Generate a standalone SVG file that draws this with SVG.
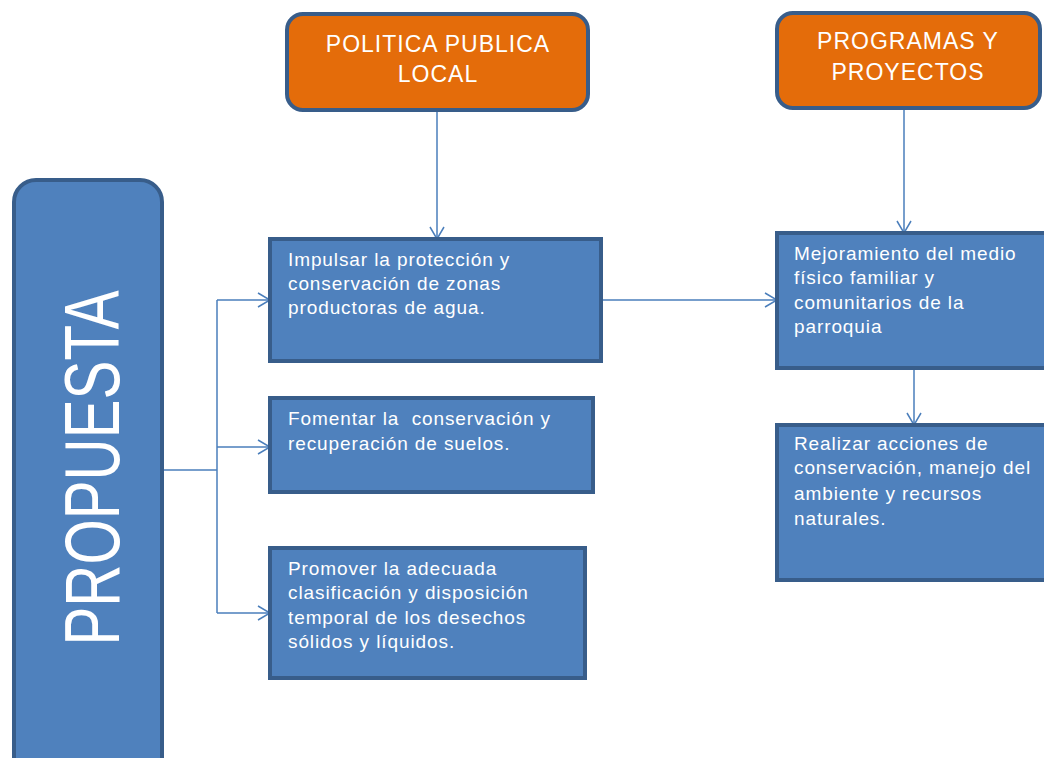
<svg xmlns="http://www.w3.org/2000/svg" width="1044" height="758" viewBox="0 0 1044 758">
<style>
.blue{fill:#4F81BD;stroke:#385D8A;stroke-width:4}
.orange{fill:#E46C0A;stroke:#385D8A;stroke-width:4}
.t{font-family:"Liberation Sans",Arial,sans-serif;fill:#fff;font-size:19px;letter-spacing:0.9px;white-space:pre}
.h{font-family:"Liberation Sans",Arial,sans-serif;fill:#fff;font-size:23px;text-anchor:middle;letter-spacing:1px}
.c{fill:none;stroke:#4A7EBB;stroke-width:1.5}
</style>
<defs>
<marker id="arr" viewBox="0 0 14 16" refX="13" refY="8" markerWidth="14" markerHeight="16" markerUnits="userSpaceOnUse" orient="auto">
<path d="M1,1 L13,8 L1,15" fill="none" stroke="#4A7EBB" stroke-width="1.5"/>
</marker>
</defs>
<g id="connectors">
<path class="c" d="M162,470 H217"/>
<path class="c" d="M217,300 V613"/>
<path class="c" d="M217,300 H270" marker-end="url(#arr)"/>
<path class="c" d="M217,447 H270" marker-end="url(#arr)"/>
<path class="c" d="M217,613 H270" marker-end="url(#arr)"/>
<path class="c" d="M437,112 V239" marker-end="url(#arr)"/>
<path class="c" d="M904,110 V233" marker-end="url(#arr)"/>
<path class="c" d="M601,300 H777" marker-end="url(#arr)"/>
<path class="c" d="M914,368 V425" marker-end="url(#arr)"/>
</g>
<g id="propuesta">
<rect class="blue" x="14" y="180" width="148" height="600" rx="22"/>
<text font-family="'Liberation Sans',Arial,sans-serif" font-size="78" fill="#fff" text-anchor="middle" textLength="355" lengthAdjust="spacingAndGlyphs" transform="translate(119,468) rotate(-90)">PROPUESTA</text>
</g>
<g id="politica">
<rect class="orange" x="287" y="14" width="301" height="96" rx="16"/>
<text class="h" x="438" y="52">POLITICA PUBLICA</text>
<text class="h" x="438" y="82">LOCAL</text>
</g>
<g id="programas">
<rect class="orange" x="777" y="13" width="263" height="95" rx="16"/>
<text class="h" x="908" y="49">PROGRAMAS Y</text>
<text class="h" x="908" y="80">PROYECTOS</text>
</g>
<g id="impulsar">
<rect class="blue" x="270" y="239" width="331" height="122"/>
<text class="t" x="288" y="266">Impulsar la protección y</text>
<text class="t" x="288" y="290">conservación de zonas</text>
<text class="t" x="288" y="314">productoras de agua.</text>
</g>
<g id="fomentar">
<rect class="blue" x="270" y="398" width="323" height="94"/>
<text class="t" x="288" y="425" xml:space="preserve">Fomentar la  conservación y</text>
<text class="t" x="288" y="450">recuperación de suelos.</text>
</g>
<g id="promover">
<rect class="blue" x="270" y="548" width="315" height="130"/>
<text class="t" x="288" y="575">Promover la adecuada</text>
<text class="t" x="288" y="599">clasificación y disposición</text>
<text class="t" x="288" y="624">temporal de los desechos</text>
<text class="t" x="288" y="648">sólidos y líquidos.</text>
</g>
<g id="mejoramiento">
<rect class="blue" x="777" y="233" width="280" height="135"/>
<text class="t" x="794" y="260">Mejoramiento del medio</text>
<text class="t" x="794" y="284">físico familiar y</text>
<text class="t" x="794" y="309">comunitarios de la</text>
<text class="t" x="794" y="333">parroquia</text>
</g>
<g id="realizar">
<rect class="blue" x="777" y="425" width="280" height="155"/>
<text class="t" x="794" y="450">Realizar acciones de</text>
<text class="t" x="794" y="474">conservación, manejo del</text>
<text class="t" x="794" y="500">ambiente y recursos</text>
<text class="t" x="794" y="525">naturales.</text>
</g>
</svg>
